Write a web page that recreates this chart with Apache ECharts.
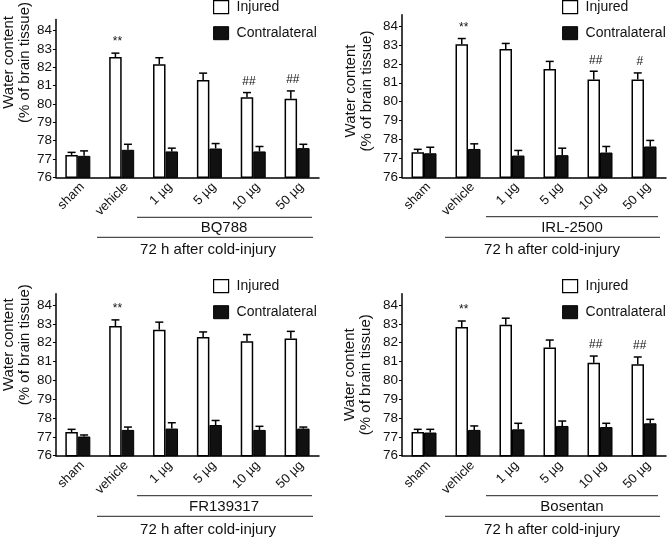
<!DOCTYPE html>
<html><head><meta charset="utf-8">
<script src="https://cdn.jsdelivr.net/npm/echarts@6/dist/echarts.min.js"></script>
<style>html,body{margin:0;padding:0;background:#fff}#c{width:667px;height:537px}</style>
</head><body><div id="c"></div>
<script>
// ---------- data ----------
const categories = ['sham', 'vehicle', '1 µg', '5 µg', '10 µg', '50 µg'];
const yTicks = [76, 77, 78, 79, 80, 81, 82, 83, 84];
const groupLabel = '72 h after cold-injury';
const yName = 'Water content\n(% of brain tissue)';

const bq788Injured    = [77.22, 82.56, 82.17, 81.30, 80.36, 80.28];
const bq788InjuredErr = [0.14, 0.21, 0.35, 0.38, 0.26, 0.43];
const bq788Contra     = [77.17, 77.50, 77.41, 77.57, 77.41, 77.59];
const bq788ContraErr  = [0.27, 0.30, 0.18, 0.27, 0.27, 0.21];
const bq788Marks      = ['', '**', '', '', '##', '##'];

const irlInjured    = [77.33, 83.04, 82.78, 81.73, 81.17, 81.17];
const irlInjuredErr = [0.15, 0.30, 0.30, 0.40, 0.44, 0.35];
const irlContra     = [77.27, 77.50, 77.15, 77.17, 77.31, 77.63];
const irlContraErr  = [0.32, 0.27, 0.27, 0.37, 0.32, 0.32];
const irlMarks      = ['', '**', '', '', '##', '#'];

const frInjured    = [77.26, 82.88, 82.69, 82.30, 82.08, 82.22];
const frInjuredErr = [0.14, 0.33, 0.40, 0.27, 0.35, 0.38];
const frContra     = [77.02, 77.37, 77.44, 77.63, 77.37, 77.44];
const frContraErr  = [0.08, 0.15, 0.31, 0.24, 0.19, 0.08];
const frMarks      = ['', '**', '', '', '', ''];

const bosInjured    = [77.26, 82.83, 82.95, 81.74, 80.94, 80.85];
const bosInjuredErr = [0.14, 0.32, 0.35, 0.40, 0.35, 0.39];
const bosContra     = [77.23, 77.37, 77.40, 77.58, 77.52, 77.72];
const bosContraErr  = [0.17, 0.21, 0.32, 0.26, 0.20, 0.21];
const bosMarks      = ['', '**', '', '', '##', '##'];

const panelData = [
  {drug: 'BQ788',    inj: bq788Injured, injErr: bq788InjuredErr, con: bq788Contra, conErr: bq788ContraErr, marks: bq788Marks},
  {drug: 'IRL-2500', inj: irlInjured,   injErr: irlInjuredErr,   con: irlContra,   conErr: irlContraErr,   marks: irlMarks},
  {drug: 'FR139317', inj: frInjured,    injErr: frInjuredErr,    con: frContra,    conErr: frContraErr,    marks: frMarks},
  {drug: 'Bosentan', inj: bosInjured,   injErr: bosInjuredErr,   con: bosContra,   conErr: bosContraErr,   marks: bosMarks}
];

// ---------- layout / style ----------
const FONT = 'Liberation Sans, Arial, Helvetica, sans-serif';
const INK = '#111';
const BAR_W = 12.5;
const layouts = [
  {left: 55,  top: 14.7,  width: 264, height: 162.6, lgLeft: 213, lgTop: 0,   nameGap: 21, namePad: 72,
   drugLine: [137, 312, 217.3], drugText: [224, 228],   outerLine: [97, 313, 237.3],  outerText: [208, 250]},
  {left: 402, top: 14.7,  width: 264, height: 162.6, lgLeft: 562, lgTop: 0,   nameGap: 27, namePad: 10,
   drugLine: [486, 658, 216.7], drugText: [572, 228],   outerLine: [445, 660, 237.3], outerText: [552, 250]},
  {left: 55,  top: 293.7, width: 264, height: 162,   lgLeft: 213, lgTop: 279, nameGap: 22, namePad: 60,
   drugLine: [137, 312, 495.7], drugText: [224, 506.5], outerLine: [97, 313, 516.3],  outerText: [208, 529.5]},
  {left: 402, top: 293.7, width: 264, height: 162,   lgLeft: 562, lgTop: 279, nameGap: 28, namePad: 0,
   drugLine: [486, 658, 495.7], drugText: [572, 506.5], outerLine: [445, 660, 516.3], outerText: [552, 529.5]}
];

const grid = [], xAxis = [], yAxis = [], legend = [], series = [], graphic = [];

function errSeries(p, name, vals, errs, marks, offset) {
  return {
    type: 'custom', name: name, xAxisIndex: p, yAxisIndex: p, z: 5, silent: true,
    data: vals.map((v, i) => [i, v, errs[i]]),
    renderItem: function (params, api) {
      const i = api.value(0), v = api.value(1), e = api.value(2);
      const b = api.coord([i, v]);
      const t = api.coord([i, v + e]);
      const cx = b[0] + offset;
      const children = [
        {type: 'line', shape: {x1: cx, y1: b[1], x2: cx, y2: t[1]}, style: {stroke: '#000', lineWidth: 1.5}},
        {type: 'line', shape: {x1: cx - 4, y1: t[1], x2: cx + 4, y2: t[1]}, style: {stroke: '#000', lineWidth: 1.5}}
      ];
      const m = marks ? marks[params.dataIndex] : '';
      if (m) {
        children.push({type: 'text', x: cx + 2, y: t[1] - 5,
          style: {text: m, fill: INK, font: '12px ' + FONT, align: 'center', verticalAlign: 'bottom',
                  textAlign: 'center', textVerticalAlign: 'bottom'}});
      }
      return {type: 'group', children: children};
    }
  };
}

panelData.forEach((pd, p) => {
  const L = layouts[p];
  grid.push({left: L.left, top: L.top, width: L.width, height: L.height});
  xAxis.push({
    type: 'category', gridIndex: p, data: categories,
    axisLine: {lineStyle: {color: '#000', width: 1.5}},
    axisTick: {show: false},
    axisLabel: {interval: 0, rotate: 45, margin: 3, fontSize: 13, fontFamily: FONT, color: INK,
                verticalAlign: 'top'}
  });
  yAxis.push({
    type: 'value', gridIndex: p, min: 76, max: 84.6, interval: 1,
    name: yName, nameLocation: 'middle', nameRotate: 90, nameGap: L.nameGap,
    nameTextStyle: {fontSize: 15, lineHeight: 16, fontFamily: FONT, color: INK, padding: [0, 0, 0, L.namePad]},
    axisLine: {show: true, lineStyle: {color: '#000', width: 1.5}},
    axisTick: {show: true, length: 3, customValues: yTicks, lineStyle: {color: '#000', width: 1}},
    axisLabel: {customValues: yTicks, margin: 4, fontSize: 13.5, fontFamily: FONT, color: INK},
    splitLine: {show: false}
  });
  legend.push({
    orient: 'vertical', left: L.lgLeft, top: L.lgTop, padding: 0, itemGap: 12,
    itemWidth: 15, itemHeight: 13, icon: 'rect', selectedMode: false,
    textStyle: {fontSize: 14, fontFamily: FONT, color: INK, padding: [0, 0, 0, 3]},
    data: [
      {name: 'Injured', itemStyle: {color: '#fff', borderColor: '#000', borderWidth: 1.2}},
      {name: 'Contralateral', itemStyle: {color: '#111', borderColor: '#000', borderWidth: 1}}
    ]
  });
  series.push({
    type: 'bar', name: 'Injured', xAxisIndex: p, yAxisIndex: p, data: pd.inj,
    barWidth: BAR_W, barGap: '0%',
    itemStyle: {color: '#fff', borderColor: '#000', borderWidth: 1.5}
  });
  series.push({
    type: 'bar', name: 'Contralateral', xAxisIndex: p, yAxisIndex: p, data: pd.con,
    barWidth: BAR_W, barGap: '0%',
    itemStyle: {color: '#111', borderColor: '#000', borderWidth: 1}
  });
  series.push(errSeries(p, 'Injured SE', pd.inj, pd.injErr, pd.marks, -BAR_W / 2));
  series.push(errSeries(p, 'Contralateral SE', pd.con, pd.conErr, null, BAR_W / 2));

  // group brackets (annotation)
  graphic.push({type: 'line', shape: {x1: L.drugLine[0], y1: L.drugLine[2], x2: L.drugLine[1], y2: L.drugLine[2]},
                style: {stroke: '#222', lineWidth: 1}});
  graphic.push({type: 'text', x: L.drugText[0], y: L.drugText[1],
                style: {text: pd.drug, fill: INK, font: '15px ' + FONT, align: 'center', verticalAlign: 'middle',
                        textAlign: 'center', textVerticalAlign: 'middle'}});
  graphic.push({type: 'line', shape: {x1: L.outerLine[0], y1: L.outerLine[2], x2: L.outerLine[1], y2: L.outerLine[2]},
                style: {stroke: '#222', lineWidth: 1}});
  graphic.push({type: 'text', x: L.outerText[0], y: L.outerText[1],
                style: {text: groupLabel, fill: INK, font: '15px ' + FONT, align: 'center', verticalAlign: 'middle',
                        textAlign: 'center', textVerticalAlign: 'middle'}});
});

const chart = echarts.init(document.getElementById('c'), null, {renderer: 'canvas'});
chart.setOption({
  backgroundColor: '#fff',
  animation: false,
  textStyle: {fontFamily: FONT},
  grid, xAxis, yAxis, legend, series, graphic
});
</script>
</body></html>
